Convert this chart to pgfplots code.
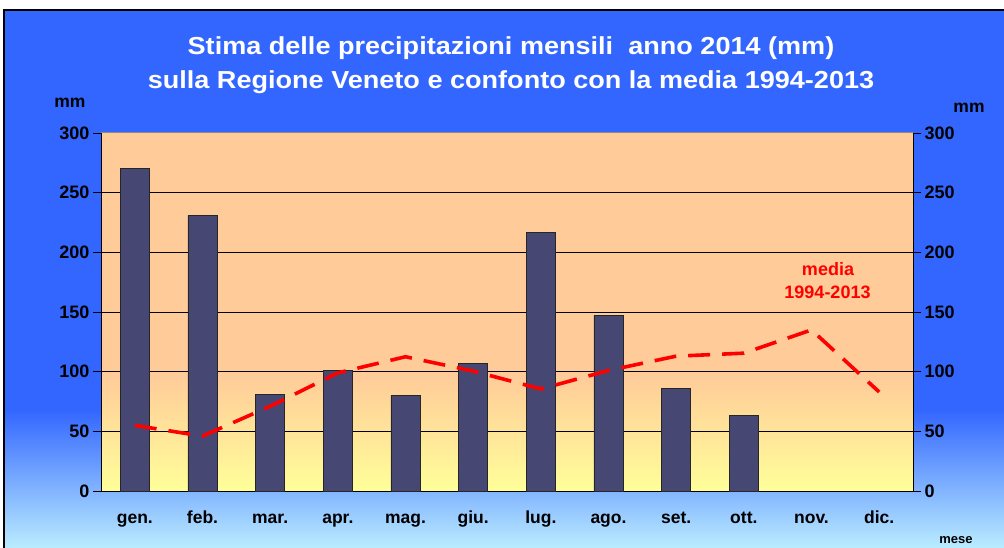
\documentclass[border=0pt]{standalone}
\usepackage{pgfplots}
\pgfplotsset{compat=1.18}
\usepackage{fontspec}
\setmainfont{Liberation Sans}
\newfontfamily\titlefont[FakeStretch=1.1]{Liberation Sans}
\definecolor{bgblue}{RGB}{51,102,255}
\definecolor{bgcyan}{RGB}{200,250,255}
\definecolor{peach}{RGB}{255,204,153}
\definecolor{pyellow}{RGB}{255,255,153}
\definecolor{barblue}{RGB}{70,72,115}
\begin{document}
\begin{tikzpicture}[x=1pt,y=1pt]
\useasboundingbox (0,0) rectangle (1004,547);
\begin{scope}
\clip (0,0) rectangle (1004,547);
\fill[white] (0,0) rectangle (1004,547);
\fill[bgblue] (4,137) rectangle (1010,537);
\shade[top color=bgblue, bottom color=bgcyan] (4,-15) rectangle (1010,137.5);
\draw[line width=1.2pt] (4,-15) -- (4,537) -- (1010,537);
\fill[peach] (101,56) rectangle (913,414);
\shade[top color=peach, bottom color=pyellow] (101,56) rectangle (913,170);
\draw[black!45, line width=1pt] (101,414) -- (913,414);
\end{scope}
\pgfplotsset{
  myaxis/.style={
    at={(101pt,56pt)}, anchor=south west, scale only axis,
    width=812pt, height=358pt,
    xmin=-0.5, xmax=11.5, ymin=0, ymax=300,
    tick align=outside, major tick length=8pt, minor tick length=7pt,
    tick style={black, line width=0.8pt},
    /pgf/number format/assume math mode=true,
    ticklabel style={font=\bfseries\fontsize{18}{18}\selectfont},
  }
}
\begin{axis}[myaxis,
  axis x line*=bottom, axis y line*=left,
  axis line style={black, line width=0.9pt},
  xtick={0,...,11},
  xticklabels={gen.,feb.,mar.,apr.,mag.,giu.,lug.,ago.,set.,ott.,nov.,dic.},
  xtick style={draw=none},
  minor xtick={-0.5,0.5,...,11.5},
  xticklabel style={font=\bfseries\fontsize{17.5}{17.5}\selectfont, text height=13pt, text depth=4pt, yshift=-8pt},
  ytick={0,50,...,250},
  extra y ticks={300}, extra y tick style={grid=none},
  ymajorgrids, grid style={black, line width=0.8pt},
]
\addplot[ybar, bar width=0.43, fill=barblue, draw=black!85, line width=0.9pt]
 coordinates {(0,270) (1,231) (2,81) (3,101) (4,80) (5,107) (6,217) (7,147) (8,86) (9,63)};
\addplot[red, line width=3.6pt, dash pattern=on 22pt off 12pt]
 coordinates {(0,55) (1,46) (2,71) (3,99) (4,112.5) (5,100.5) (6,85.5) (7,101) (8,113) (9,115.5) (10,135) (11,83)};
\end{axis}
\begin{axis}[myaxis,
  axis x line=none, axis y line*=right,
  axis line style={black, line width=0.9pt},
  ytick={0,50,...,300},
]
\addplot[draw=none] coordinates {(0,0)};
\end{axis}
\node[white, font=\titlefont\bfseries\fontsize{24.6}{24.6}\selectfont, anchor=base] at (511,492.7) {Stima delle precipitazioni mensili\ \ anno 2014 (mm)};
\node[white, font=\titlefont\bfseries\fontsize{24.6}{24.6}\selectfont, anchor=base] at (511,458.7) {sulla Regione Veneto e confonto con la media 1994-2013};
\node[font=\bfseries\fontsize{17.5}{17.5}\selectfont, anchor=base] at (70,439) {mm};
\node[font=\bfseries\fontsize{17.5}{17.5}\selectfont, anchor=base] at (969,434) {mm};
\node[font=\bfseries\fontsize{13}{13}\selectfont, anchor=base] at (956,4) {mese};
\node[red, font=\bfseries\fontsize{18}{18}\selectfont, anchor=base] at (828,272) {media};
\node[red, font=\bfseries\fontsize{18}{18}\selectfont, anchor=base] at (827.5,249) {1994-2013};
\end{tikzpicture}
\end{document}
